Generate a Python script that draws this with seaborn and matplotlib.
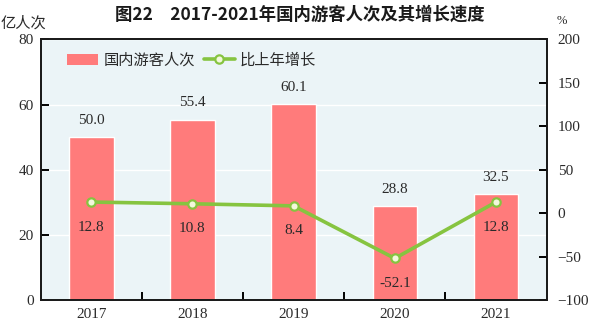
import matplotlib
matplotlib.use("Agg")
import matplotlib.pyplot as plt
import seaborn as sns
import numpy as np
from matplotlib.patches import Patch
from matplotlib.lines import Line2D

years = ["2017", "2018", "2019", "2020", "2021"]
visitors = [50.0, 55.4, 60.1, 28.8, 32.5]
growth = [12.8, 10.8, 8.4, -52.1, 12.8]
left_ticks = [0, 20, 40, 60, 80]
right_ticks = [-100, -50, 0, 50, 100, 150, 200]

title = "图22　2017-2021年国内游客人次及其增长速度"
bar_name = "国内游客人次"
line_name = "比上年增长"
left_unit = "亿人次"
right_unit = "%"

RED = "#ff7b7b"
GREEN = "#86c440"
BG = "#ebf4f7"
TXT = "#2a2a2a"
CJK = ["Noto Sans CJK SC", "DejaVu Sans"]
SERIF = ["Liberation Serif", "DejaVu Serif"]

sns.set_theme(style="white")
plt.rcParams["font.family"] = CJK

fig = plt.figure(figsize=(5.98, 3.28), dpi=100)
fig.subplots_adjust(left=0.068, right=0.914, bottom=0.0854, top=0.8796)
ax = fig.add_subplot(111)
ax.set_facecolor(BG)

sns.barplot(x=years, y=visitors, color=RED, saturation=1, width=0.44, ax=ax, zorder=2)
ax.set_axisbelow(True)
ax.set_ylim(0, 80)
ax.set_yticks(left_ticks)
ax.yaxis.grid(True, color="white", linewidth=1.0)
ax.xaxis.grid(False)

ax2 = ax.twinx()
sns.pointplot(x=years, y=growth, color=GREEN, markers="o", linestyles="-",
              errorbar=None, ax=ax2)
for ln in ax2.lines:
    ln.set_linewidth(2.6)
    ln.set_markersize(6)
    ln.set_markerfacecolor("#f3f8dc")
    ln.set_markeredgecolor(GREEN)
    ln.set_markeredgewidth(1.6)
for c in ax2.collections:
    c.set_facecolor("#f3f8dc")
    c.set_edgecolor(GREEN)
    c.set_linewidth(1.6)
    c.set_sizes([36])
ax2.set_ylim(-100, 200)
ax2.set_yticks(right_ticks)
ax2.set_ylabel("")
ax.set_ylabel("")
ax.set_xlim(-0.5, 4.5)
ax2.set_xlim(-0.5, 4.5)

# ticks
ax.set_xticks(range(len(years)))
ax.set_xticklabels(years)
ax.set_xticks(np.arange(0.5, len(years) - 1, 1.0), minor=True)
ax.tick_params(axis="x", which="major", length=0, pad=6, labelsize=11, labelcolor=TXT)
ax.tick_params(axis="x", which="minor", direction="in", length=6, width=1.4, color="black", bottom=True)
ax.tick_params(axis="y", direction="in", length=6, width=1.4, color="black", pad=5,
               labelsize=11, labelcolor=TXT, left=True)
ax2.tick_params(axis="y", direction="in", length=6, width=1.4, color="black", pad=8,
                labelsize=11, labelcolor=TXT, right=True)
for lab in ax.get_xticklabels() + ax.get_yticklabels() + ax2.get_yticklabels():
    lab.set_family(SERIF)

for a in (ax, ax2):
    for s in a.spines.values():
        s.set_visible(True)
        s.set_color("#1a1a1a")
        s.set_linewidth(1.3)
ax2.patch.set_visible(False)

# data labels
for i, v in enumerate(visitors):
    ax.annotate(f"{v:.1f}", (i, v), xytext=(0, 12), textcoords="offset points",
                ha="center", va="center", fontsize=11, color=TXT, family=SERIF)
for i, g in enumerate(growth):
    ax2.annotate(f"{g:.1f}", (i, g), xytext=(0, -18), textcoords="offset points",
                 ha="center", va="center", fontsize=11, color=TXT, family=SERIF)

# legend
handles = [Patch(facecolor=RED, edgecolor="none"),
           Line2D([], [], color=GREEN, lw=2.6, marker="o", markersize=6,
                  markerfacecolor="#f3f8dc", markeredgecolor=GREEN, markeredgewidth=1.6)]
ax2.legend(handles, [bar_name, line_name], loc="center left", bbox_to_anchor=(0.053, 0.921),
           ncol=2, frameon=False, borderaxespad=0, borderpad=0, handlelength=2.0,
           handletextpad=0.35, columnspacing=0.6, prop={"family": CJK, "size": 11},
           labelcolor=TXT)

fig.text(0.502, 0.954, title, ha="center", va="center", fontsize=12.5, fontweight="bold",
         color="#1a1a1a", family=CJK)
fig.text(0.04, 0.93, left_unit, ha="center", va="center", fontsize=11, color=TXT, family=CJK)
fig.text(0.94, 0.935, right_unit, ha="center", va="center", fontsize=9, color=TXT, family=SERIF)

fig.savefig("out.png", dpi=100)
